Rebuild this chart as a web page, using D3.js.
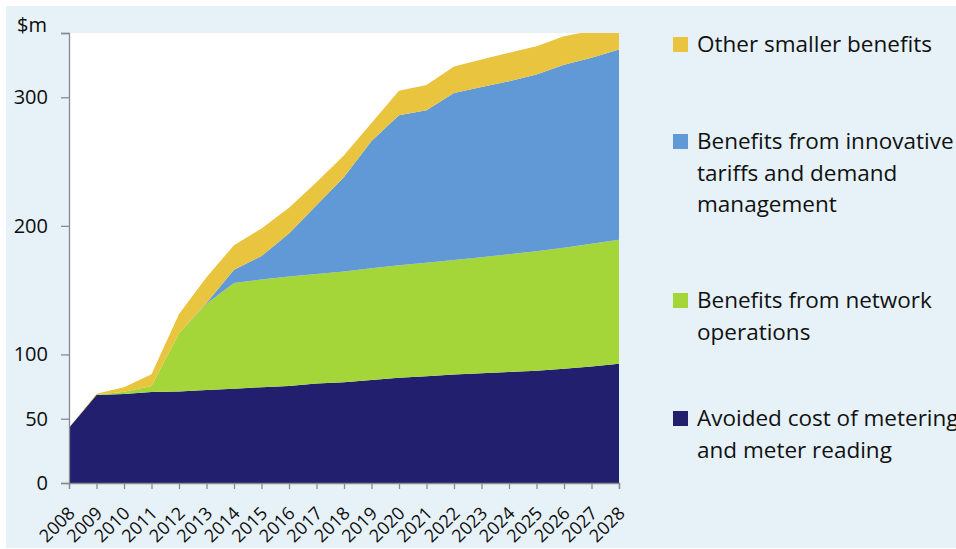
<!DOCTYPE html>
<html><head><meta charset="utf-8">
<script src="https://cdn.jsdelivr.net/npm/d3@7"></script>
<style>body{margin:0;background:#fff;} text{font-family:"Open Sans",sans-serif;}</style>
</head><body><svg id="c" width="956" height="549"></svg>
<script>
const years = [2008,2009,2010,2011,2012,2013,2014,2015,2016,2017,2018,2019,2020,2021,2022,2023,2024,2025,2026,2027,2028];
const avoidedCost = [43,68.5,69.3,70.7,71.2,72.4,73.4,74.5,75.5,77.3,78.4,80.2,81.8,83,84.3,85.4,86.4,87.4,88.8,90.6,92.7];
const networkOps = [0,0.2,1.6,4.8,45.3,67.1,82.1,83.8,85.1,85.2,86.1,86.8,87.5,88.3,89.2,90.1,91.6,92.9,94.2,95.4,96.5];
const innovativeTariffs = [0,0,0,0,0,0.5,10.3,18.2,33.4,53.5,73.5,99,116.7,118.7,129.9,132.5,134.4,137.4,142.4,144.7,148];
const otherBenefits = [0,0.8,3.6,9,15,20,19.2,21.5,20,18,17,14,19,19.5,20.6,21.4,22.2,22,22.1,21,20];
const yTicks = [0,50,100,200,300,350];
const yUnit = "$m";
const seriesKeys = ["avoided","network","tariffs","other"];
const seriesColors = {avoided:"#221F6F", network:"#A4D63A", tariffs:"#6199D6", other:"#E9C43E"};
const legendOrder = ["other","tariffs","network","avoided"];
const legendLines = {
  other:["Other smaller benefits"],
  tariffs:["Benefits from innovative","tariffs and demand","management"],
  network:["Benefits from network","operations"],
  avoided:["Avoided cost of metering","and meter reading"]
};

const rows = years.map((y,i)=>({year:y, avoided:avoidedCost[i], network:networkOps[i], tariffs:innovativeTariffs[i], other:otherBenefits[i]}));

const svg = d3.select("#c");
svg.append("rect").attr("x",6).attr("y",6).attr("width",950).attr("height",542).attr("fill","#E6F1F8");

const L=69, R=619, T=33, B=483;
svg.append("rect").attr("x",L).attr("y",T).attr("width",R-L).attr("height",B-T).attr("fill","#fff");

const x = d3.scaleLinear().domain([2008,2028]).range([L,R]);
const y = d3.scaleLinear().domain([0,350]).range([B,T]);

svg.append("defs").append("clipPath").attr("id","clip").append("rect").attr("x",L).attr("y",T).attr("width",R-L).attr("height",B-T);

const stack = d3.stack().keys(seriesKeys)(rows);
const area = d3.area().x(d=>x(d.data.year)).y0(d=>y(d[0])).y1(d=>y(d[1]));
svg.append("g").attr("clip-path","url(#clip)").selectAll("path").data(stack).join("path")
  .attr("d",area).attr("fill",d=>seriesColors[d.key]);

// axes
const axisColor="#8a8a8a";
const yAxis = svg.append("g").attr("transform",`translate(${L},0)`)
  .call(d3.axisLeft(y).tickValues(yTicks).tickSize(8).tickPadding(13).tickFormat(d=>d===350?"":d));
const xAxis = svg.append("g").attr("transform",`translate(0,${B})`)
  .call(d3.axisBottom(x).tickValues(years).tickSize(6).tickFormat(d3.format("d")));
[yAxis,xAxis].forEach(g=>{
  g.select(".domain").attr("stroke",axisColor).attr("stroke-width",1.3);
  g.selectAll(".tick line").attr("stroke",axisColor).attr("stroke-width",1.3);
});
yAxis.selectAll("text").attr("font-size",20).attr("fill","#0d0d0d").attr("font-family","Open Sans");
xAxis.selectAll(".tick text").attr("font-size",18).attr("fill","#0d0d0d").attr("font-family","Open Sans")
  .attr("text-anchor","end").attr("dy","0.35em").attr("x",0).attr("y",0)
  .attr("transform","translate(2,27) rotate(-45)");

svg.append("text").attr("x",47).attr("y",32).attr("text-anchor","end").attr("font-size",20).attr("fill","#0d0d0d").text(yUnit);

// legend
const legTops = {other:37, tariffs:134, network:293, avoided:411};
const lg = svg.append("g");
legendOrder.forEach(k=>{
  const t = legTops[k];
  lg.append("rect").attr("x",673).attr("y",t).attr("width",15).attr("height",15).attr("fill",seriesColors[k]);
  legendLines[k].forEach((line,i)=>{
    lg.append("text").attr("x",697).attr("y",t+15+i*31.5).attr("font-size",22.5).attr("fill","#111").text(line);
  });
});
</script></body></html>
